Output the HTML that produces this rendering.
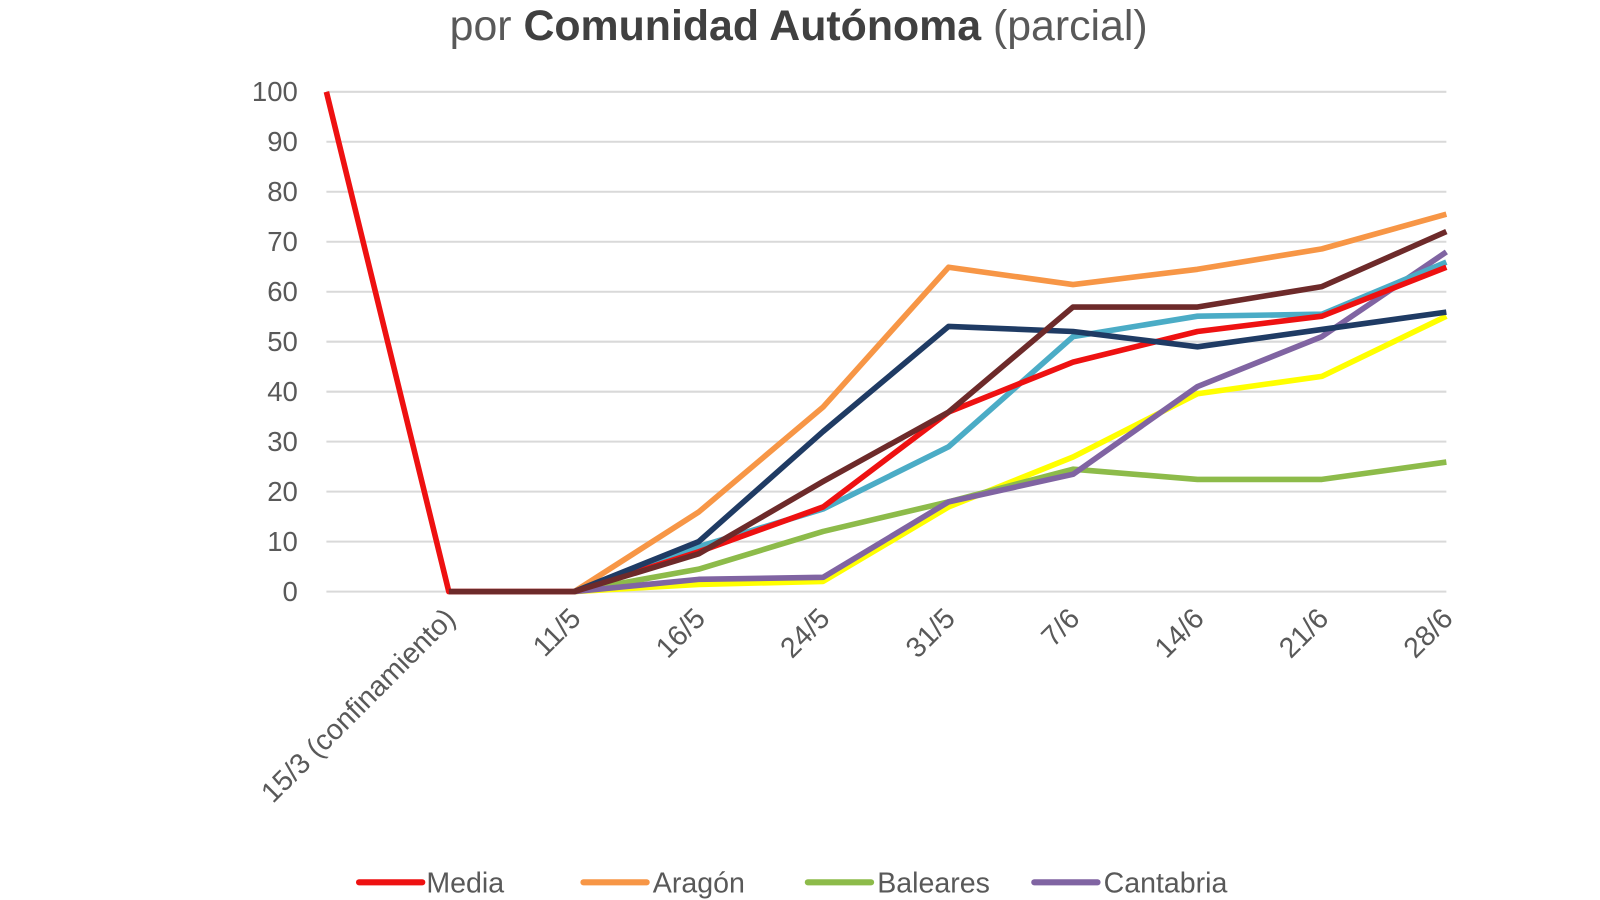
<!DOCTYPE html>
<html><head><meta charset="utf-8"><style>
html,body{margin:0;padding:0;background:#fff;width:1600px;height:900px;overflow:hidden}
svg text{font-family:"Liberation Sans",sans-serif;fill:#595959}
</style></head><body>
<svg width="1600" height="900" viewBox="0 0 1600 900" xmlns="http://www.w3.org/2000/svg">
<g transform="scale(1.02)">
<text x="783" y="39" font-size="42" text-anchor="middle">por <tspan font-weight="bold" fill="#404040">Comunidad Autónoma</tspan> (parcial)</text>
<g stroke="#d9d9d9" stroke-width="2">
<line x1="320" y1="90" x2="1418" y2="90"/><line x1="320" y1="139" x2="1418" y2="139"/>
<line x1="320" y1="188" x2="1418" y2="188"/><line x1="320" y1="237" x2="1418" y2="237"/>
<line x1="320" y1="286" x2="1418" y2="286"/><line x1="320" y1="335" x2="1418" y2="335"/>
<line x1="320" y1="384" x2="1418" y2="384"/><line x1="320" y1="433" x2="1418" y2="433"/>
<line x1="320" y1="482" x2="1418" y2="482"/><line x1="320" y1="531" x2="1418" y2="531"/>
<line x1="320" y1="580" x2="1418" y2="580"/>
</g>
<g font-size="27" text-anchor="end">
<text x="292" y="99">100</text><text x="292" y="148">90</text><text x="292" y="197">80</text>
<text x="292" y="246">70</text><text x="292" y="295">60</text><text x="292" y="344">50</text>
<text x="292" y="393">40</text><text x="292" y="442">30</text><text x="292" y="491">20</text>
<text x="292" y="540">10</text><text x="292" y="589">0</text>
</g>
<g font-size="28" text-anchor="end">
<text transform="translate(448,608) rotate(-45)">15/3 (confinamiento)</text>
<text transform="translate(571,608) rotate(-45)">11/5</text>
<text transform="translate(693,608) rotate(-45)">16/5</text>
<text transform="translate(815,608) rotate(-45)">24/5</text>
<text transform="translate(938,608) rotate(-45)">31/5</text>
<text transform="translate(1060,608) rotate(-45)">7/6</text>
<text transform="translate(1182,608) rotate(-45)">14/6</text>
<text transform="translate(1304,608) rotate(-45)">21/6</text>
<text transform="translate(1426,608) rotate(-45)">28/6</text>
</g>
<g fill="none" stroke-width="5.5" stroke-linejoin="round">
<polyline stroke="#ffff00" points="563,580 685,573 807,570 930,497 1052,448 1174,386 1296,369 1418,310"/>
<polyline stroke="#8dbb4a" points="563,580 685,558 807,521 930,492 1052,460 1174,470 1296,470 1418,453"/>
<polyline stroke="#8064a2" points="563,580 685,568 807,566 930,492 1052,465 1174,379 1296,330 1418,247"/>
<polyline stroke="#f79646" points="563,580 685,502 807,399 930,262 1052,279 1174,264 1296,244 1418,210"/>
<polyline stroke="#4bacc6" points="563,580 685,536 807,499 930,438 1052,330 1174,310 1296,308 1418,257"/>
<polyline stroke="#ee1111" points="320,90 440,580 563,580 685,541 807,497 930,404 1052,355 1174,325 1296,310 1418,262"/>
<polyline stroke="#1f3b64" points="563,580 685,531 807,423 930,320 1052,325 1174,340 1296,323 1418,306"/>
<polyline stroke="#6d2a2a" points="440,580 563,580 685,543 807,472 930,404 1052,301 1174,301 1296,281 1418,227"/>
</g>
<g stroke-width="6" stroke-linecap="round">
<line x1="352" y1="865" x2="414" y2="865" stroke="#ee1111"/>
<line x1="572" y1="865" x2="634" y2="865" stroke="#f79646"/>
<line x1="792" y1="865" x2="854" y2="865" stroke="#8dbb4a"/>
<line x1="1014" y1="865" x2="1076" y2="865" stroke="#8064a2"/>
</g>
<g font-size="28">
<text x="418" y="875">Media</text><text x="640" y="875">Aragón</text>
<text x="860" y="875">Baleares</text><text x="1082" y="875">Cantabria</text>
</g>
</g>
</svg>
</body></html>
